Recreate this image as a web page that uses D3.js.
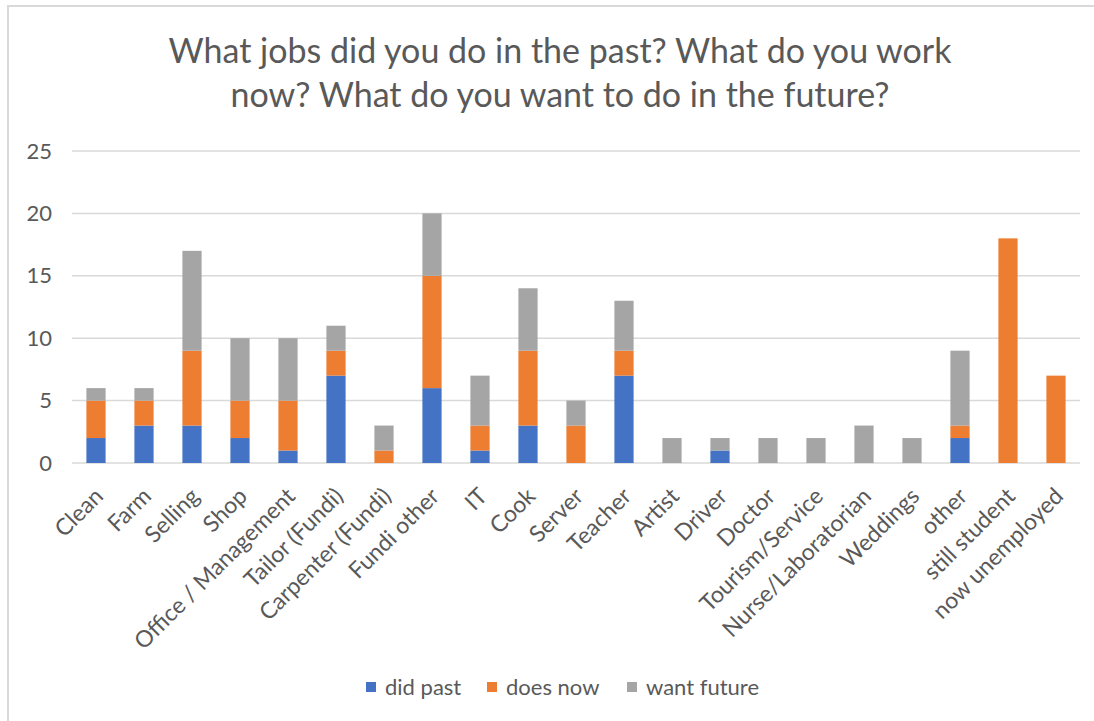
<!DOCTYPE html>
<html>
<head>
<meta charset="utf-8">
<script src="https://cdn.jsdelivr.net/npm/d3@7"></script>
<style>
  html, body { margin: 0; padding: 0; background: #fff; }
  svg { display: block; }
  text { font-family: Lato, "Open Sans", sans-serif; fill: #595959; }
</style>
</head>
<body>
<svg id="chart" width="1094" height="721"></svg>
<script>
const categories = ["Clean", "Farm", "Selling", "Shop", "Office / Management", "Tailor (Fundi)",
  "Carpenter (Fundi)", "Fundi other", "IT", "Cook", "Server", "Teacher", "Artist", "Driver",
  "Doctor", "Tourism/Service", "Nurse/Laboratorian", "Weddings", "other", "still student", "now unemployed"];
const didPast    = [2, 3, 3, 2, 1, 7, 0, 6, 1, 3, 0, 7, 0, 1, 0, 0, 0, 0, 2, 0, 0];
const doesNow    = [3, 2, 6, 3, 4, 2, 1, 9, 2, 6, 3, 2, 0, 0, 0, 0, 0, 0, 1, 18, 7];
const wantFuture = [1, 1, 8, 5, 5, 2, 2, 5, 4, 5, 2, 4, 2, 1, 2, 2, 3, 2, 6, 0, 0];
const seriesNames = ["did past", "does now", "want future"];
const seriesColors = ["#4472C4", "#ED7D31", "#A5A5A5"];
const yTicks = [0, 5, 10, 15, 20, 25];
const titleLines = ["What jobs did you do in the past? What do you work", "now? What do you want to do in the future?"];

const svg = d3.select("#chart");

// chart border (only top & left visible in the crop)
svg.append("rect").attr("x", 8).attr("y", 6).attr("width", 1200).attr("height", 800)
  .attr("fill", "none").attr("stroke", "#D9D9D9").attr("stroke-width", 2);

const x = d3.scaleBand().domain(categories).range([72, 1080]).paddingInner(0.6).paddingOuter(0.3);
const y = d3.scaleLinear().domain([0, 25]).range([463, 151]);

// gridlines
svg.append("g").selectAll("line").data(yTicks).join("line")
  .attr("x1", 72).attr("x2", 1080)
  .attr("y1", d => y(d)).attr("y2", d => y(d))
  .attr("stroke", "#D9D9D9").attr("stroke-width", 1.5);

// y axis labels
const yAxis = d3.axisLeft(y).tickValues(yTicks).tickSize(0).tickPadding(20);
const yg = svg.append("g").attr("transform", "translate(72,0)").call(yAxis);
yg.select(".domain").remove();
yg.selectAll("text").attr("font-size", 22).attr("fill", "#595959").attr("font-family", "Lato, sans-serif");

// stacked bars
const rows = categories.map((c, i) => ({cat: c, "did past": didPast[i], "does now": doesNow[i], "want future": wantFuture[i]}));
const stack = d3.stack().keys(seriesNames)(rows);
svg.append("g").selectAll("g").data(stack).join("g")
  .attr("fill", (d, i) => seriesColors[i])
  .selectAll("rect").data(d => d.filter(s => s[1] - s[0] > 0)).join("rect")
  .attr("x", d => x(d.data.cat))
  .attr("width", x.bandwidth())
  .attr("y", d => y(d[1]))
  .attr("height", d => y(d[0]) - y(d[1]));

// x axis labels
const xAxis = d3.axisBottom(x).tickSize(0).tickPadding(0);
const xg = svg.append("g").attr("transform", "translate(0,463)").call(xAxis);
xg.select(".domain").remove();
xg.selectAll("text")
  .attr("font-size", 23).attr("fill", "#595959").attr("font-family", "Lato, sans-serif")
  .attr("text-anchor", "end")
  .attr("y", 0).attr("dy", "0.35em")
  .attr("transform", "translate(3,29) rotate(-45)");

// title
svg.append("g").selectAll("text").data(titleLines).join("text")
  .attr("x", 560).attr("y", (d, i) => 63 + i * 44)
  .attr("text-anchor", "middle").attr("font-size", 34).attr("fill", "#595959")
  .text(d => d);

// legend
const legendX = [366, 487, 627];
const lg = svg.append("g").selectAll("g").data(seriesNames).join("g")
  .attr("transform", (d, i) => `translate(${legendX[i]},687)`);
lg.append("rect").attr("x", 0).attr("y", -5).attr("width", 10).attr("height", 10)
  .attr("fill", (d, i) => seriesColors[i]);
lg.append("text").attr("x", 19).attr("dy", "0.35em").attr("font-size", 22).text(d => d);
</script>
</body>
</html>
